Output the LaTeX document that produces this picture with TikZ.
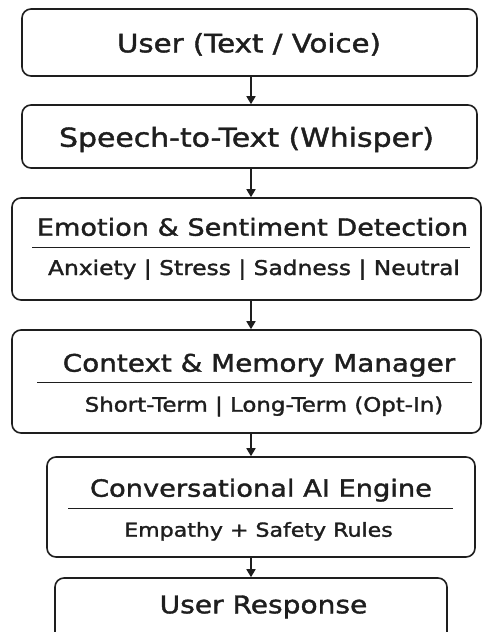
\documentclass[tikz,border=0pt]{standalone}
\usepackage{fontspec}
\setmainfont[FakeStretch=1.15,FakeBold=1.6]{DejaVu Sans}
\usetikzlibrary{arrows.meta}
\definecolor{ink}{HTML}{1E1E1E}
\tikzset{
  box/.style={draw=ink, line width=1.6pt, rounded corners=9pt, inner sep=0pt},
  lbl/.style={text=ink, inner sep=0pt, anchor=base},
  fs/.style={font=\fontsize{#1}{#1}\selectfont},
  sep/.style={draw=ink, line width=1.4pt},
  flow/.style={draw=ink, line width=1.6pt, -{Triangle[width=9pt,length=8pt]}}
}
\begin{document}
\begin{tikzpicture}[x=1pt,y=-1pt]
\useasboundingbox (0,0) rectangle (482,632);
\clip (0,0) rectangle (482,632);
\coordinate (ax) at (251,0);
% boxes
\node[box, minimum width=455pt, minimum height=67pt] (b1) at (249.5,42.5) {};
\node[box, minimum width=455pt, minimum height=63pt] (b2) at (249.5,136.5) {};
\node[box, minimum width=469pt, minimum height=102pt] (b3) at (246.5,249) {};
\node[box, minimum width=469pt, minimum height=103pt] (b4) at (246.5,381.5) {};
\node[box, minimum width=428pt, minimum height=100pt] (b5) at (261,507) {};
\node[box, minimum width=392pt, minimum height=70pt] (b6) at (251,613) {};
% texts
\node[lbl, fs=25.4] (t1) at (249,52.3) {User (Text / Voice)};
\node[lbl, fs=26.0] (t2) at (246.5,146.7) {Speech-to-Text (Whisper)};
\node[lbl, fs=23.6] (t3) at (252.5,235.7) {Emotion \& Sentiment Detection};
\node[lbl, fs=20.3] (s3) at (254,275) {Anxiety | Stress | Sadness | Neutral};
\node[lbl, fs=24.2] (t4) at (259,371.7) {Context \& Memory Manager};
\node[lbl, fs=19.9] (s4) at (264,411.7) {Short-Term | Long-Term (Opt-In)};
\node[lbl, fs=23.7] (t5) at (261,496.7) {Conversational AI Engine};
\node[lbl, fs=19.2] (s5) at (258.5,536.7) {Empathy + Safety Rules};
\node[lbl, fs=24.4] (t6) at (263.5,613.3) {User Response};
% separators
\coordinate (l3a) at (32,247.7); \coordinate (l3b) at (470,247.7);
\coordinate (l4a) at (37,382.7); \coordinate (l4b) at (472,382.7);
\coordinate (l5a) at (68,508.3); \coordinate (l5b) at (453,508.3);
\draw[sep] (l3a) -- (l3b);
\draw[sep] (l4a) -- (l4b);
\draw[sep] (l5a) -- (l5b);
% arrows
\draw[flow] (b1.south -| ax) -- (b2.north -| ax);
\draw[flow] (b2.south -| ax) -- (b3.north -| ax);
\draw[flow] (b3.south -| ax) -- (b4.north -| ax);
\draw[flow] (b4.south -| ax) -- (b5.north -| ax);
\draw[flow] (b5.south -| ax) -- (b6.north -| ax);
\end{tikzpicture}
\end{document}
